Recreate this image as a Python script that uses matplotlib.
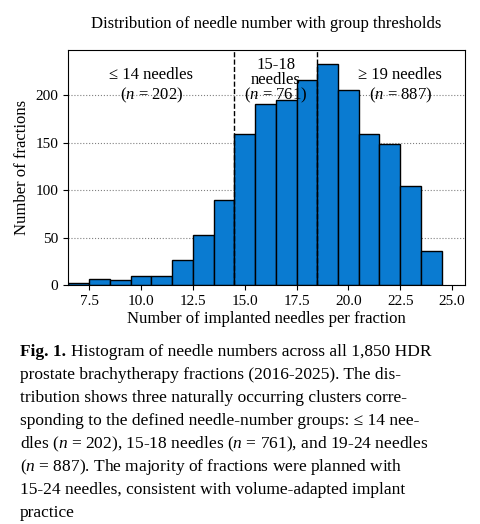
import numpy as np
import matplotlib.pyplot as plt

plt.rcParams['font.family'] = ['Liberation Serif', 'DejaVu Serif']
plt.rcParams['mathtext.fontset'] = 'custom'
plt.rcParams['mathtext.it'] = 'Liberation Serif:italic'
plt.rcParams['mathtext.rm'] = 'Liberation Serif'

needles = np.arange(7, 25)
counts = [2, 6, 5, 10, 10, 26, 53, 90, 159, 191, 195, 216, 233, 206, 159, 149, 104, 36]
thresholds = [14.5, 18.5]

fig = plt.figure(figsize=(4.8, 5.24), dpi=100)
ax = fig.add_axes([0.142, 0.456, 0.827, 0.449])
ax.bar(needles, counts, width=1.0, color='#0a7bd1', edgecolor='black', linewidth=1.0, zorder=2)
for t in thresholds:
    ax.axvline(t, color='black', linestyle='--', linewidth=1.0, zorder=3)
ax.yaxis.grid(True, linestyle=':', color='gray', linewidth=0.8, zorder=0)
ax.set_xlim(6.49, 25.63)
ax.set_ylim(0, 248)
ax.set_xticks([7.5, 10, 12.5, 15, 17.5, 20, 22.5, 25])
ax.set_yticks([0, 50, 100, 150, 200])
ax.tick_params(labelsize=11)
ax.set_xlabel('Number of implanted needles per fraction', fontsize=12, labelpad=2)
ax.set_ylabel('Number of fractions', fontsize=12)
ax.set_title('Distribution of needle number with group thresholds', fontsize=12, pad=16)

ax.text(10.5, 210, '≤ 14 needles\n($n$ = 202)', ha='center', va='center', fontsize=12)
ax.text(16.5, 215, '15-18\nneedles\n($n$ = 761)', ha='center', va='center', fontsize=12, linespacing=0.9)
ax.text(22.5, 210, '≥ 19 needles\n($n$ = 887)', ha='center', va='center', fontsize=12)

lines = [
    'prostate brachytherapy fractions (2016-2025). The dis-',
    'tribution shows three naturally occurring clusters corre-',
    'sponding to the defined needle-number groups: ≤ 14 nee-',
    'dles ($n$ = 202), 15-18 needles ($n$ = 761), and 19-24 needles',
    '($n$ = 887). The majority of fractions were planned with',
    '15-24 needles, consistent with volume-adapted implant',
    'practice',
]
y0 = 1 - 352 / 524
fig.text(0.042, y0, 'Fig. 1.', fontsize=12.5, fontweight='bold', va='center')
fig.text(0.148, y0, 'Histogram of needle numbers across all 1,850 HDR', fontsize=12.5, va='center')
for i, line in enumerate(lines):
    fig.text(0.042, y0 - (i + 1) * 23 / 524, line, fontsize=12.5, va='center')

fig.savefig('out.png', dpi=100)
